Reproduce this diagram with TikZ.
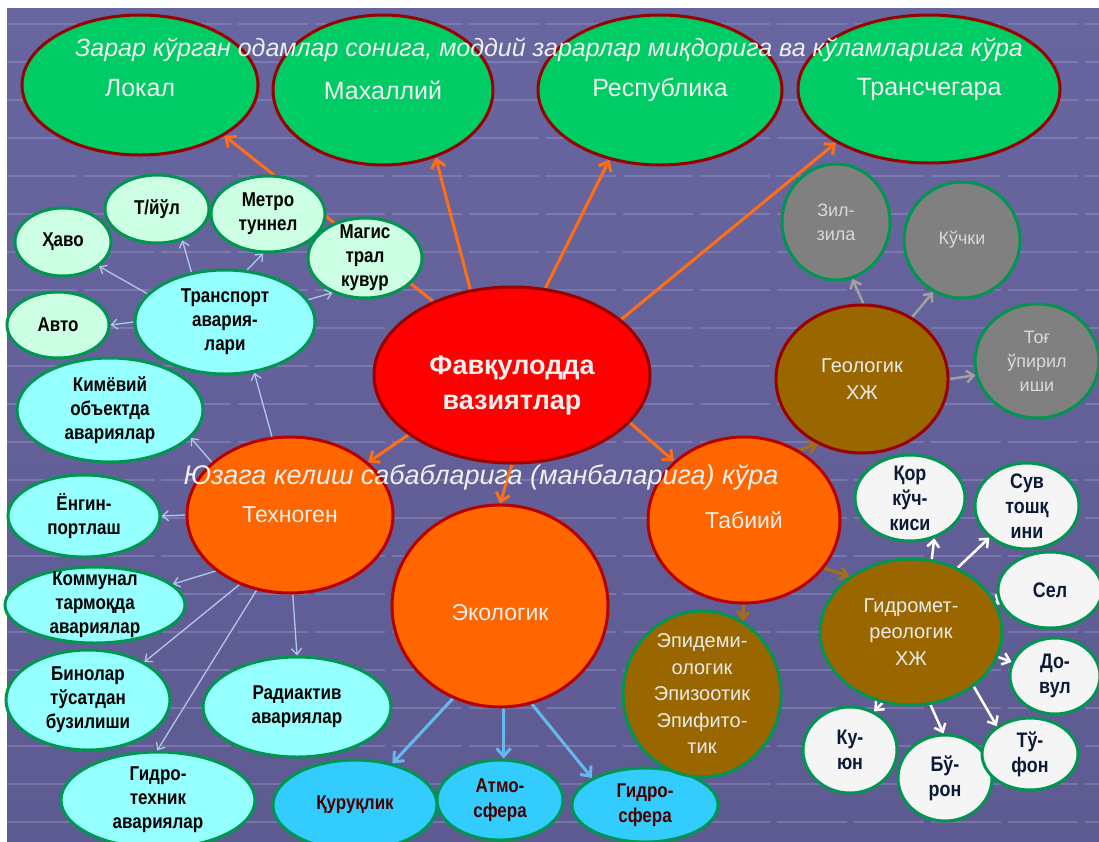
\documentclass[tikz,border=0pt]{standalone}
\usepackage{fontspec}
\setmainfont{Liberation Sans}
\newfontfamily\condsans[FakeStretch=0.85]{Liberation Sans}
\usetikzlibrary{arrows.meta,shapes.geometric}
\definecolor{bgtop}{RGB}{104,102,160}
\definecolor{bgbot}{RGB}{94,90,146}
\definecolor{bgline}{RGB}{150,148,198}
\definecolor{zonefill}{RGB}{0,204,102}
\definecolor{rededge}{RGB}{153,0,0}
\definecolor{greenedge}{RGB}{0,150,80}
\definecolor{mintfill}{RGB}{204,255,228}
\definecolor{cyanfill}{RGB}{150,255,255}
\definecolor{bluefill}{RGB}{51,204,255}
\definecolor{orangefill}{RGB}{255,102,0}
\definecolor{brownfill}{RGB}{153,102,0}
\definecolor{grayfill}{RGB}{128,128,128}
\definecolor{whitefill}{RGB}{245,245,245}
\definecolor{orline}{RGB}{255,110,20}
\definecolor{thinline}{RGB}{176,200,232}
\definecolor{ecoline}{RGB}{102,184,240}
\definecolor{geoline}{RGB}{160,160,160}
\definecolor{tabline}{RGB}{165,110,20}
\definecolor{navytext}{RGB}{12,26,56}
\definecolor{maroontext}{RGB}{70,0,0}
\pgfdeclarelayer{back}
\pgfdeclarelayer{links}
\pgfsetlayers{back,links,main}

\begin{document}
\begin{tikzpicture}[x=1pt, y=-1pt,
      oval/.style={ellipse, inner sep=0pt, line width=3pt},
      sz/.style 2 args={minimum width=#1pt, minimum height=#2pt},
      zone/.style={oval, draw=rededge, fill=zonefill},
      core/.style={oval, draw=rededge, fill=red},
      kind/.style={oval, draw=rededge!70!red, fill=orangefill},
      hazard/.style={oval, draw=greenedge, fill=brownfill},
      rock/.style={oval, draw=greenedge, fill=grayfill},
      sub/.style={oval, draw=greenedge, fill=cyanfill},
      mint/.style={oval, draw=greenedge, fill=mintfill},
      sphere/.style={oval, draw=greenedge, fill=bluefill},
      storm/.style={oval, draw=greenedge, fill=whitefill},
      zt/.style={align=center, text=white!94!black, font=\fontsize{25}{30}\selectfont},
      kt/.style={align=center, text=white!94!black, font=\fontsize{23}{28}\selectfont},
      ht/.style={align=center, text=white!92!black, font=\fontsize{20}{26.5}\selectfont},
      rt/.style={align=center, text=white!85!black, font=\fontsize{18}{24}\selectfont},
      bt/.style={align=center, text=black, font=\condsans\bfseries\fontsize{20}{24}\selectfont},
      st/.style={align=center, text=maroontext, font=\condsans\bfseries\fontsize{20}{25}\selectfont},
      wt/.style={align=center, text=navytext, font=\condsans\bfseries\fontsize{21}{25}\selectfont},
      heading/.style={text=white!94!black, font=\itshape\fontsize{25}{30}\selectfont},
      fanout/.style={draw=orline, line width=3pt, -{Straight Barb[length=8pt,width=14pt]}},
      techl/.style={draw=thinline, line width=1.3pt, -{Straight Barb[length=6pt,width=10pt]}},
      ecol/.style={draw=ecoline, line width=3pt, -{Straight Barb[length=8pt,width=14pt]}},
      geol/.style={draw=geoline, line width=2.5pt, -{Straight Barb[length=7pt,width=12pt]}},
      tabl/.style={draw=tabline, line width=3pt, -{Straight Barb[length=7pt,width=12pt]}},
      wl/.style={draw=white, line width=2.5pt, -{Straight Barb[length=7pt,width=12pt]}}]
      \useasboundingbox (0,0) rectangle (1099,841);
      \begin{pgfonlayer}{back}
        \fill[white] (0,0) rectangle (1099,841);
        \shade[top color=bgtop, bottom color=bgbot] (7,8) rectangle (1099,841);
        \foreach \y in {24,62,...,840}
          \draw[bgline, opacity=.45, line width=1.5pt, dash pattern=on 70pt off 7pt] (7,\y) -- (1099,\y);
      \end{pgfonlayer}

      \node[zone, sz={236}{140}, label={[zt, yshift=-3pt]center:Локал}] (lokal) at (140,85) {};
      \node[zone, sz={220}{150}, label={[zt]center:Махаллий}] (mahal) at (383,90) {};
      \node[zone, sz={244}{150}, label={[zt]center:Республика}] (respub) at (660,90) {};
      \node[zone, sz={262}{148}, label={[zt]center:Трансчегара}] (trans) at (929,89) {};
      \node[heading] (scaletitle) at (549,50) {Зарар кўрган одамлар сонига, моддий зарарлар миқдорига ва кўламларига кўра};

      \node[core, sz={276}{176}, label={[yshift=-10pt, align=center, text=white!94!black, font=\bfseries\fontsize{27}{35}\selectfont]center:{Фавқулодда\\вазиятлар}}] (fav) at (512,375) {};

      \node[kind, sz={206}{156}, label={[kt]center:Техноген}] (tech) at (290,515) {};
      \node[kind, sz={216}{202}, label={[kt, yshift=-7pt]center:Экологик}] (eco) at (500,606) {};
      \node[kind, sz={192}{166}, label={[kt]center:Табиий}] (tabiy) at (744,520) {};
      \node[heading, font=\itshape\fontsize{27}{30}\selectfont] (causetitle) at (481,477) {Юзага келиш сабабларига (манбаларига) кўра};

      \node[mint, sz={96}{68}, label={[bt]center:Ҳаво}] (havo) at (63,242) {};
      \node[mint, sz={104}{68}, label={[bt]center:Т/йўл}] (tyul) at (157,209) {};
      \node[mint, sz={114}{76}, label={[bt]center:{Метро\\туннел}}] (metro) at (268,214) {};
      \node[mint, sz={114}{80}, label={[bt]center:{Магис\\трал\\кувур}}] (magis) at (365,258) {};
      \node[mint, sz={102}{66}, label={[bt]center:Авто}] (avto) at (58,325) {};
      \node[sub, sz={180}{104}, label={[bt]center:{Транспорт\\авария-\\лари}}] (transport) at (225,322) {};
      \node[sub, sz={186}{104}, label={[bt]center:{Кимёвий\\объектда\\авариялар}}] (kimyo) at (110,410) {};
      \node[sub, sz={152}{82}, label={[bt]center:{Ёнгин-\\портлаш}}] (yongin) at (84,516) {};
      \node[sub, sz={180}{76}, label={[bt]center:{Коммунал\\тармоқда\\авариялар}}] (kommun) at (95,605) {};
      \node[sub, sz={164}{100}, label={[bt]center:{Бинолар\\тўсатдан\\бузилиши}}] (bino) at (88,700) {};
      \node[sub, sz={188}{100}, label={[bt]center:{Радиактив\\авариялар}}] (radio) at (297,707) {};
      \node[sub, sz={194}{96}, label={[bt]center:{Гидро-\\техник\\авариялар}}] (gidrotex) at (158,800) {};

      \node[sphere, sz={164}{90}, label={[st]center:Қуруқлик}] (quruq) at (355,805) {};
      \node[sphere, sz={126}{80}, label={[st]center:{Атмо-\\сфера}}] (atmo) at (500,800) {};
      \node[sphere, sz={146}{74}, label={[st]center:{Гидро-\\сфера}}] (gidrosf) at (645,805) {};

      \node[hazard, draw=rededge, sz={172}{148}, label={[ht]center:{Геологик\\ХЖ}}] (geo) at (862,379) {};
      \node[hazard, sz={182}{146}, label={[ht]center:{Гидромет-\\реологик\\ХЖ}}] (gidromet) at (911,632) {};
      \node[hazard, sz={158}{166}, label={[ht]center:{Эпидеми-\\ологик\\Эпизоотик\\Эпифито-\\тик}}] (epid) at (702,694) {};
      \node[rock, sz={108}{116}, label={[rt]center:{Зил-\\зила}}] (zil) at (836,222) {};
      \node[rock, sz={116}{116}, label={[rt]center:Кўчки}] (kuchki) at (962,240) {};
      \node[rock, sz={124}{114}, label={[rt]center:{Тоғ\\ўпирил\\иши}}] (tog) at (1037,361) {};

      \node[storm, sz={110}{86}, label={[wt]center:{Қор\\кўч-\\киси}}] (qor) at (910,498) {};
      \node[storm, sz={104}{86}, label={[wt]center:{Сув\\тошқ\\ини}}] (suv) at (1027,506) {};
      \node[storm, sz={104}{76}, label={[wt]center:Сел}] (sel) at (1050,590) {};
      \node[storm, sz={90}{76}, label={[wt]center:{До-\\вул}}] (dovul) at (1055,676) {};
      \node[storm, sz={94}{86}, label={[wt]center:{Ку-\\юн}}] (kuyun) at (850,750) {};
      \node[storm, sz={94}{86}, label={[wt]center:{Бў-\\рон}}] (buron) at (945,778) {};
      \node[storm, sz={96}{72}, label={[wt]center:{Тў-\\фон}}] (tufon) at (1030,754) {};

      \begin{pgfonlayer}{links}
        \draw[fanout] (fav.137) -- (lokal.-31); \draw[fanout] (fav.116) -- (mahal.-52);
        \draw[fanout] (fav.69) -- (respub.-126); \draw[fanout] (fav.27) -- (trans.-150);
        \draw[fanout] (fav.-150) -- (tech.34); \draw[fanout] (fav.-22) -- (tabiy.140);
        \draw[fanout] (fav.south) -- (eco.north);
        \draw[techl] (transport.160) -- (havo.-34); \draw[techl] (transport.124) -- (tyul.-51);
        \draw[techl] (transport.67) -- (metro.-97); \draw[techl] (transport.15) -- (magis.-133);
        \draw[techl] (transport.west) -- (avto.east);
        \draw[techl] (tech.103) -- (transport.-60); \draw[techl] (tech.146) -- (kimyo.-19);
        \draw[techl] (tech.west) -- (yongin.east); \draw[techl] (tech.-143) -- (kommun.15);
        \draw[techl] (tech.-126) -- (bino.34); \draw[techl] (tech.-114) -- (gidrotex.91);
        \draw[techl] (tech.-88) -- (radio.north);
        \draw[ecol] (eco.-117) -- (quruq.48); \draw[ecol] (eco.-88) -- (atmo.85);
        \draw[ecol] (eco.-72) -- (gidrosf.153);
        \draw[tabl] (tabiy.52) -- (geo.-124); \draw[tabl] (tabiy.-31) -- (gidromet.138);
        \draw[tabl] (tabiy.-90) -- (epid.61);
        \draw[geol] (geo.89) -- (zil.-74); \draw[geol] (geo.51) -- (kuchki.-119);
        \draw[geol] (geo.0) -- (tog.-167);
        \draw[wl] (gidromet.74) -- (qor.-59); \draw[wl] (gidromet.54) -- (suv.-140);
        \draw[wl] (gidromet.20) -- (sel.-164); \draw[wl] (gidromet.-16) -- (dovul.162);
        \draw[wl] (gidromet.-112) -- (kuyun.58); \draw[wl] (gidromet.-75) -- (buron.92);
        \draw[wl] (gidromet.-41) -- (tufon.140);
      \end{pgfonlayer}
    \end{tikzpicture}
\end{document}
